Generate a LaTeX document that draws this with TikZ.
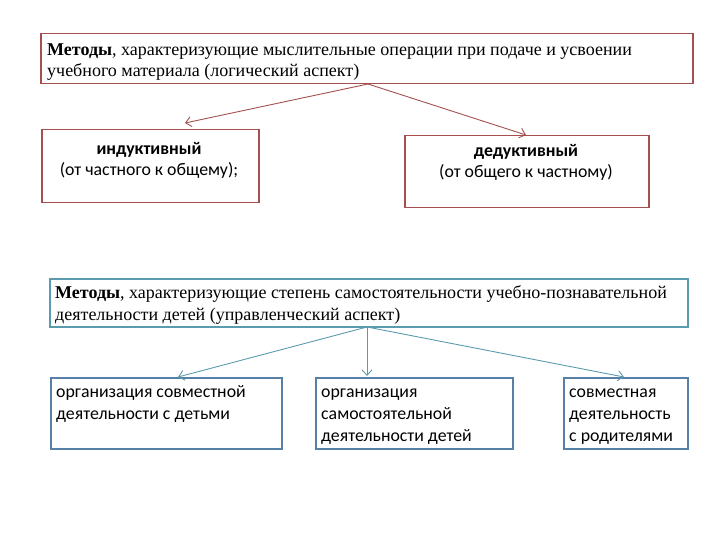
\documentclass[tikz,border=0pt]{standalone}
\usepackage{fontspec}
\setmainfont{Liberation Serif}
\newfontfamily\carlitofont{Carlito}
\usetikzlibrary{arrows.meta}
\definecolor{redb}{HTML}{A5504F}
\definecolor{tealb}{HTML}{5B9BAE}
\definecolor{blueb}{HTML}{5780A6}
\tikzset{
  box/.style={draw, line width=1.5pt, anchor=north west, inner sep=0pt},
  hdr/.style={anchor=base west, inner sep=0pt, align=left, font=\fontsize{18}{21.5}\selectfont},
  ctext/.style={anchor=base, inner sep=0pt, align=center, font=\carlitofont\fontsize{17.8}{21}\selectfont},
  ltext/.style={anchor=base west, inner sep=0pt, align=left, font=\carlitofont\fontsize{17.8}{22}\selectfont},
  arr/.style={line width=0.9pt, -{Straight Barb[length=5.5pt,width=10pt]}},
}
\begin{document}
\begin{tikzpicture}[x=1pt,y=-1pt]
\useasboundingbox (0,0) rectangle (720,540);
% top part
\node[box, draw=redb, minimum width=652pt, minimum height=50pt] (h1) at (40,33) {};
\node[hdr] (h1t) at (47,77) {\textbf{Методы}, характеризующие мыслительные операции при подаче и усвоении\\учебного материала (логический аспект)};
\node[box, draw=redb, minimum width=217pt, minimum height=73pt] (ind) at (41,129) {};
\node[ctext] (indt) at (149,176) {\textbf{индуктивный}\\(от частного к общему);};
\node[box, draw=redb, minimum width=244pt, minimum height=72pt] (ded) at (404,135) {};
\node[ctext] (dedt) at (526,178) {\textbf{дедуктивный}\\(от общего к частному)};
\coordinate (s1) at (368,84);
\coordinate (e1) at (185,123);
\coordinate (e2) at (526,135);
\draw[arr, draw=redb] (s1) -- (e1);
\draw[arr, draw=redb] (s1) -- (e2);
% bottom part
\node[box, draw=tealb, minimum width=638pt, minimum height=48pt] (h2) at (49,278) {};
\node[hdr] (h2t) at (55,320) {\textbf{Методы}, характеризующие степень самостоятельности учебно-познавательной\\деятельности детей (управленческий аспект)};
\node[box, draw=blueb, minimum width=231pt, minimum height=71pt] (a) at (50,377) {};
\node[ltext] (at) at (56,419) {организация совместной\\деятельности с детьми};
\node[box, draw=blueb, minimum width=197pt, minimum height=71pt] (b) at (315,377) {};
\node[ltext] (bt) at (321,441) {организация\\самостоятельной\\деятельности детей};
\node[box, draw=blueb, minimum width=124pt, minimum height=71pt] (c) at (563,377) {};
\node[ltext] (ct) at (569,441) {совместная\\деятельность\\с родителями};
\coordinate (s2) at (367,327);
\coordinate (ea) at (178,377);
\coordinate (eb) at (367,376);
\coordinate (ec) at (624,377);
\draw[arr, draw=tealb] (s2) -- (ea);
\draw[arr, draw=tealb] (s2) -- (eb);
\draw[arr, draw=tealb] (s2) -- (ec);
\end{tikzpicture}
\end{document}
